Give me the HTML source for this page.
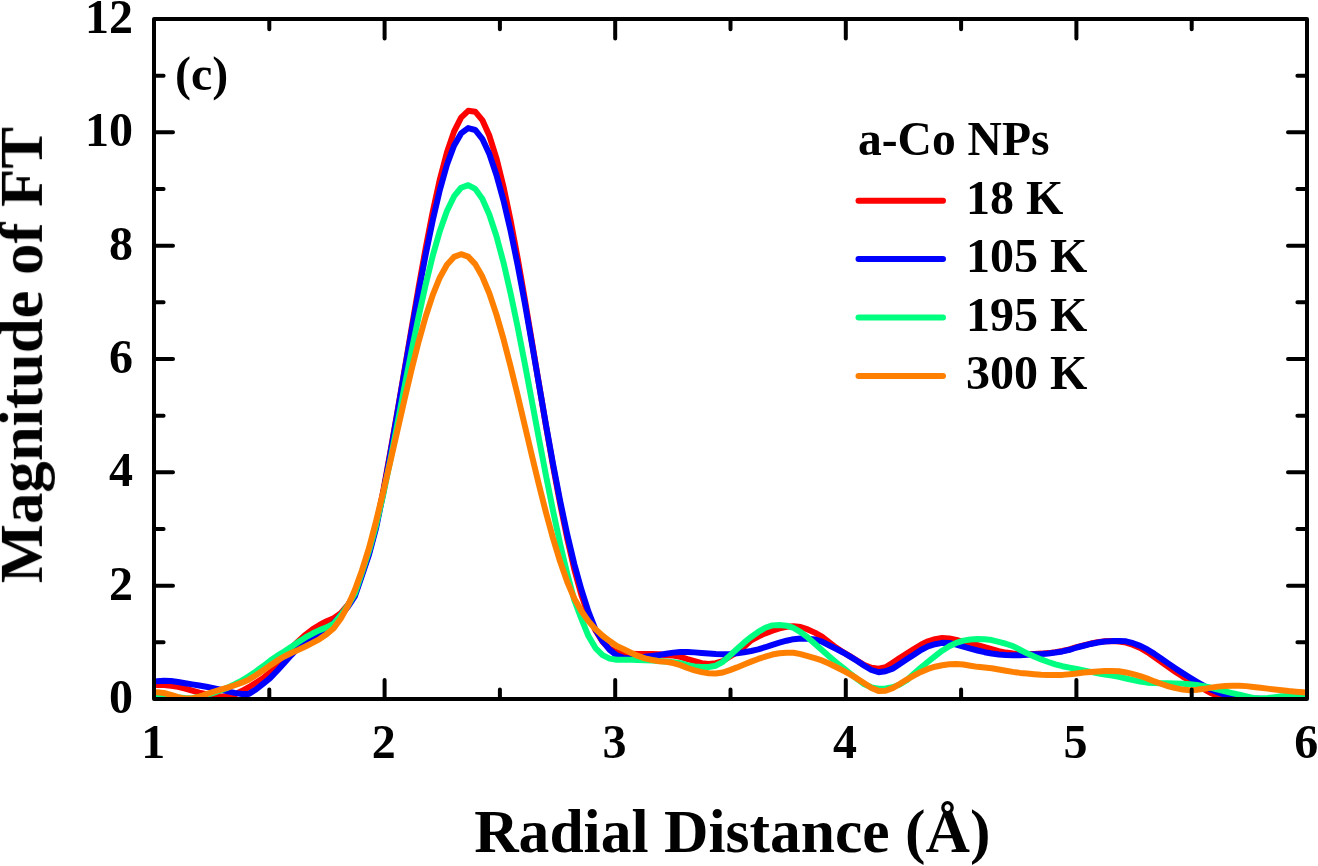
<!DOCTYPE html>
<html><head><meta charset="utf-8"><title>Magnitude of FT</title>
<style>html,body{margin:0;padding:0;background:#fff;}svg{display:block;}text{font-family:"Liberation Serif",serif;font-weight:bold;fill:#000;}</style></head><body>
<svg width="1318" height="866" viewBox="0 0 1318 866">
<rect x="0" y="0" width="1318" height="866" fill="#fff"/>
<defs><clipPath id="plot"><rect x="154.0" y="19.0" width="1153.0" height="680.0"/></clipPath></defs>
<g clip-path="url(#plot)" fill="none" stroke-linejoin="round" stroke-linecap="round" stroke-width="6.00">
<path d="M156.87,684.98 L163.94,685.01 L171.02,685.72 L178.09,686.75 L185.16,688.54 L192.24,690.66 L199.31,692.60 L206.39,694.20 L213.46,695.44 L220.54,696.25 L227.61,696.38 L234.69,694.49 L241.76,691.05 L248.84,687.20 L255.91,682.81 L262.99,678.20 L270.06,672.31 L277.14,663.45 L284.21,655.33 L291.29,647.90 L298.36,641.13 L305.43,634.86 L312.51,629.41 L319.58,625.00 L326.66,621.27 L333.73,618.31 L340.81,613.30 L347.88,604.97 L354.96,593.93 L362.03,573.92 L369.11,552.70 L376.18,525.46 L383.26,490.74 L390.33,451.93 L397.41,411.83 L404.48,370.36 L411.56,328.48 L418.63,287.30 L425.70,247.96 L432.78,211.64 L439.85,179.48 L446.93,152.50 L454.00,131.62 L461.08,117.57 L468.15,110.83 L475.23,111.68 L482.30,120.09 L489.38,135.82 L496.45,158.34 L503.53,186.92 L510.60,220.61 L517.68,258.33 L524.75,298.91 L531.83,341.13 L538.90,383.78 L545.97,425.74 L553.05,466.01 L560.12,503.73 L567.20,538.25 L574.27,569.12 L581.35,594.77 L588.42,614.99 L595.50,630.43 L602.57,641.71 L609.65,648.79 L616.72,652.24 L623.80,653.42 L630.87,653.73 L637.95,653.93 L645.02,653.97 L652.10,653.90 L659.17,654.17 L666.25,655.21 L673.32,655.56 L680.39,656.88 L687.47,659.17 L694.54,661.15 L701.62,663.20 L708.69,664.05 L715.77,663.16 L722.84,661.09 L729.92,656.55 L736.99,652.10 L744.07,646.75 L751.14,640.31 L758.22,636.51 L765.29,633.33 L772.37,630.58 L779.44,628.28 L786.52,626.77 L793.59,626.29 L800.66,627.07 L807.74,629.42 L814.81,632.61 L821.89,636.57 L828.96,642.12 L836.04,647.52 L843.11,652.16 L850.19,656.32 L857.26,660.73 L864.34,665.09 L871.41,667.83 L878.49,668.62 L885.56,667.22 L892.64,662.71 L899.71,657.99 L906.79,653.54 L913.86,649.01 L920.93,644.76 L928.01,641.27 L935.08,639.14 L942.16,638.09 L949.23,638.38 L956.31,639.87 L963.38,641.87 L970.46,643.24 L977.53,645.25 L984.61,647.26 L991.68,649.15 L998.76,651.08 L1005.83,652.58 L1012.91,653.57 L1019.98,654.18 L1027.06,654.12 L1034.13,653.90 L1041.21,653.62 L1048.28,653.10 L1055.35,652.15 L1062.43,651.02 L1069.50,649.37 L1076.58,647.11 L1083.65,645.34 L1090.73,643.54 L1097.80,642.13 L1104.88,641.23 L1111.95,641.06 L1119.03,641.50 L1126.10,642.63 L1133.18,644.99 L1140.25,648.02 L1147.33,652.14 L1154.40,657.04 L1161.48,662.08 L1168.55,667.02 L1175.62,671.96 L1182.70,676.57 L1189.77,680.60 L1196.85,684.77 L1203.92,689.04 L1211.00,693.08 L1218.07,696.17 L1225.15,698.21 L1232.22,699.32 L1239.30,699.80 L1246.37,700.02 L1253.45,700.14 L1260.52,700.23 L1267.60,700.31 L1274.67,700.36 L1281.75,700.38 L1288.82,700.36 L1295.89,700.30 L1302.97,700.20 L1310.04,700.05" stroke="#ff0000"/>
<path d="M156.87,681.34 L163.94,680.79 L171.02,681.02 L178.09,682.03 L185.16,683.22 L192.24,684.40 L199.31,685.53 L206.39,686.72 L213.46,688.15 L220.54,689.69 L227.61,691.31 L234.69,692.84 L241.76,693.99 L248.84,693.90 L255.91,689.52 L262.99,683.81 L270.06,678.15 L277.14,670.71 L284.21,662.91 L291.29,655.07 L298.36,647.71 L305.43,641.22 L312.51,637.51 L319.58,634.11 L326.66,629.15 L333.73,622.96 L340.81,615.24 L347.88,606.77 L354.96,595.99 L362.03,575.33 L369.11,554.31 L376.18,527.65 L383.26,493.02 L390.33,453.52 L397.41,412.66 L404.48,371.56 L411.56,330.98 L418.63,291.67 L425.70,254.43 L432.78,220.15 L439.85,189.90 L446.93,164.79 L454.00,145.74 L461.08,133.41 L468.15,128.13 L475.23,129.99 L482.30,138.83 L489.38,154.09 L496.45,174.93 L503.53,200.65 L510.60,230.83 L517.68,265.11 L524.75,302.82 L531.83,342.91 L538.90,384.05 L545.97,424.88 L553.05,464.15 L560.12,500.87 L567.20,534.31 L574.27,564.04 L581.35,589.48 L588.42,611.64 L595.50,629.49 L602.57,641.22 L609.65,649.87 L616.72,655.45 L623.80,657.95 L630.87,658.37 L637.95,657.66 L645.02,656.84 L652.10,655.96 L659.17,654.95 L666.25,653.68 L673.32,652.62 L680.39,651.95 L687.47,651.89 L694.54,652.37 L701.62,652.92 L708.69,653.48 L715.77,654.04 L722.84,654.31 L729.92,654.03 L736.99,653.36 L744.07,652.30 L751.14,650.99 L758.22,649.39 L765.29,647.23 L772.37,644.81 L779.44,642.64 L786.52,640.72 L793.59,639.18 L800.66,638.55 L807.74,638.64 L814.81,639.42 L821.89,641.60 L828.96,645.25 L836.04,648.77 L843.11,652.52 L850.19,656.60 L857.26,661.00 L864.34,665.76 L871.41,670.01 L878.49,672.23 L885.56,671.23 L892.64,668.63 L899.71,663.99 L906.79,659.32 L913.86,654.64 L920.93,649.95 L928.01,646.36 L935.08,644.19 L942.16,642.83 L949.23,643.00 L956.31,644.61 L963.38,646.65 L970.46,648.64 L977.53,650.51 L984.61,652.20 L991.68,653.54 L998.76,654.42 L1005.83,654.98 L1012.91,655.28 L1019.98,655.25 L1027.06,654.78 L1034.13,654.33 L1041.21,654.01 L1048.28,653.50 L1055.35,652.55 L1062.43,651.42 L1069.50,649.77 L1076.58,647.51 L1083.65,645.74 L1090.73,643.94 L1097.80,642.53 L1104.88,641.58 L1111.95,641.12 L1119.03,641.00 L1126.10,641.37 L1133.18,643.19 L1140.25,645.86 L1147.33,649.41 L1154.40,653.89 L1161.48,658.70 L1168.55,663.63 L1175.62,668.46 L1182.70,673.12 L1189.77,677.52 L1196.85,681.76 L1203.92,685.87 L1211.00,689.45 L1218.07,692.37 L1225.15,694.80 L1232.22,696.58 L1239.30,697.72 L1246.37,698.26 L1253.45,698.55 L1260.52,698.82 L1267.60,699.08 L1274.67,699.33 L1281.75,699.55 L1288.82,699.73 L1295.89,699.85 L1302.97,699.93 L1310.04,699.99" stroke="#0000ff"/>
<path d="M156.87,697.49 L163.94,697.16 L171.02,697.02 L178.09,697.49 L185.16,698.03 L192.24,698.17 L199.31,696.80 L206.39,694.91 L213.46,692.77 L220.54,690.48 L227.61,687.63 L234.69,684.26 L241.76,680.64 L248.84,676.28 L255.91,671.42 L262.99,666.27 L270.06,660.80 L277.14,655.86 L284.21,651.51 L291.29,646.88 L298.36,641.97 L305.43,637.43 L312.51,633.53 L319.58,630.09 L326.66,627.39 L333.73,623.58 L340.81,615.23 L347.88,605.60 L354.96,593.57 L362.03,572.32 L369.11,550.62 L376.18,524.87 L383.26,494.48 L390.33,460.11 L397.41,423.79 L404.48,387.15 L411.56,351.09 L418.63,316.55 L425.70,284.44 L432.78,255.63 L439.85,230.91 L446.93,211.00 L454.00,196.46 L461.08,187.76 L468.15,185.18 L475.23,188.87 L482.30,198.78 L489.38,214.70 L496.45,236.21 L503.53,262.70 L510.60,293.35 L517.68,327.24 L524.75,363.37 L531.83,400.77 L538.90,438.45 L545.97,475.45 L553.05,510.83 L560.12,543.78 L567.20,573.64 L574.27,599.96 L581.35,618.68 L588.42,636.05 L595.50,648.08 L602.57,655.10 L609.65,658.65 L616.72,659.72 L623.80,659.84 L630.87,659.84 L637.95,659.97 L645.02,660.20 L652.10,660.56 L659.17,661.01 L666.25,661.54 L673.32,662.15 L680.39,663.16 L687.47,665.20 L694.54,666.40 L701.62,667.01 L708.69,667.02 L715.77,665.73 L722.84,661.78 L729.92,655.45 L736.99,649.06 L744.07,642.66 L751.14,636.93 L758.22,631.94 L765.29,627.77 L772.37,625.37 L779.44,624.96 L786.52,625.68 L793.59,627.95 L800.66,632.18 L807.74,637.45 L814.81,643.75 L821.89,650.07 L828.96,656.29 L836.04,662.31 L843.11,667.91 L850.19,673.51 L857.26,679.11 L864.34,684.24 L871.41,687.36 L878.49,688.78 L885.56,688.55 L892.64,687.20 L899.71,684.44 L906.79,680.23 L913.86,673.72 L920.93,667.54 L928.01,661.73 L935.08,656.17 L942.16,650.69 L949.23,646.32 L956.31,642.89 L963.38,640.65 L970.46,639.47 L977.53,639.05 L984.61,639.16 L991.68,640.08 L998.76,641.88 L1005.83,643.74 L1012.91,646.11 L1019.98,649.73 L1027.06,653.35 L1034.13,656.56 L1041.21,659.42 L1048.28,661.99 L1055.35,664.30 L1062.43,666.19 L1069.50,667.60 L1076.58,669.05 L1083.65,670.49 L1090.73,671.91 L1097.80,673.31 L1104.88,674.50 L1111.95,675.47 L1119.03,676.83 L1126.10,678.49 L1133.18,680.10 L1140.25,681.58 L1147.33,682.63 L1154.40,682.98 L1161.48,683.15 L1168.55,683.30 L1175.62,683.43 L1182.70,683.67 L1189.77,684.25 L1196.85,685.07 L1203.92,686.21 L1211.00,687.79 L1218.07,689.64 L1225.15,691.43 L1232.22,693.05 L1239.30,694.56 L1246.37,696.31 L1253.45,697.91 L1260.52,698.58 L1267.60,697.99 L1274.67,697.14 L1281.75,696.31 L1288.82,695.84 L1295.89,695.68 L1302.97,695.61 L1310.04,695.59" stroke="#00ff80"/>
<path d="M156.87,692.35 L163.94,693.01 L171.02,694.86 L178.09,697.11 L185.16,698.58 L192.24,698.41 L199.31,696.71 L206.39,694.16 L213.46,691.75 L220.54,689.54 L227.61,687.64 L234.69,685.27 L241.76,682.65 L248.84,679.65 L255.91,675.29 L262.99,670.43 L270.06,665.45 L277.14,660.67 L284.21,656.51 L291.29,653.04 L298.36,649.87 L305.43,646.48 L312.51,642.90 L319.58,639.01 L326.66,634.16 L333.73,628.27 L340.81,618.55 L347.88,605.90 L354.96,589.82 L362.03,570.21 L369.11,547.64 L376.18,520.64 L383.26,491.90 L390.33,461.64 L397.41,430.62 L404.48,399.65 L411.56,369.67 L418.63,341.63 L425.70,316.44 L432.78,294.86 L439.85,277.48 L446.93,264.73 L454.00,256.91 L461.08,254.18 L468.15,256.61 L475.23,264.13 L482.30,276.53 L489.38,293.52 L496.45,314.61 L503.53,339.16 L510.60,366.38 L517.68,395.41 L524.75,425.35 L531.83,455.37 L538.90,484.67 L545.97,512.55 L553.05,538.35 L560.12,561.56 L567.20,581.83 L574.27,598.39 L581.35,611.03 L588.42,621.14 L595.50,629.17 L602.57,635.73 L609.65,641.03 L616.72,645.96 L623.80,649.21 L630.87,652.69 L637.95,655.92 L645.02,658.31 L652.10,660.00 L659.17,661.17 L666.25,661.83 L673.32,663.07 L680.39,665.12 L687.47,667.99 L694.54,670.30 L701.62,672.15 L708.69,673.32 L715.77,673.58 L722.84,672.52 L729.92,670.08 L736.99,667.41 L744.07,664.55 L751.14,661.63 L758.22,658.95 L765.29,656.61 L772.37,654.56 L779.44,653.23 L786.52,652.82 L793.59,652.77 L800.66,654.12 L807.74,656.11 L814.81,658.22 L821.89,660.40 L828.96,663.48 L836.04,667.05 L843.11,670.64 L850.19,674.34 L857.26,678.65 L864.34,683.30 L871.41,687.91 L878.49,690.89 L885.56,690.75 L892.64,688.17 L899.71,683.98 L906.79,679.53 L913.86,675.62 L920.93,671.93 L928.01,668.91 L935.08,666.69 L942.16,665.20 L949.23,664.28 L956.31,664.05 L963.38,664.58 L970.46,665.73 L977.53,666.85 L984.61,667.54 L991.68,668.28 L998.76,669.49 L1005.83,670.68 L1012.91,671.88 L1019.98,672.89 L1027.06,673.55 L1034.13,674.21 L1041.21,674.79 L1048.28,675.06 L1055.35,675.09 L1062.43,674.88 L1069.50,674.35 L1076.58,673.46 L1083.65,672.56 L1090.73,671.91 L1097.80,671.39 L1104.88,671.08 L1111.95,671.00 L1119.03,671.20 L1126.10,672.45 L1133.18,674.19 L1140.25,676.04 L1147.33,678.52 L1154.40,681.41 L1161.48,684.01 L1168.55,686.29 L1175.62,688.14 L1182.70,689.60 L1189.77,690.30 L1196.85,689.82 L1203.92,688.84 L1211.00,687.64 L1218.07,686.62 L1225.15,685.98 L1232.22,685.69 L1239.30,685.69 L1246.37,686.13 L1253.45,686.96 L1260.52,687.80 L1267.60,688.64 L1274.67,689.49 L1281.75,690.33 L1288.82,691.09 L1295.89,691.65 L1302.97,692.15 L1310.04,692.66" stroke="#ff8000"/>
</g>
<path d="M269.30,699.0 v-9.6 M269.30,19.0 v10.2 M384.60,699.0 v-19.0 M384.60,19.0 v19.6 M499.90,699.0 v-9.6 M499.90,19.0 v10.2 M615.20,699.0 v-19.0 M615.20,19.0 v19.6 M730.50,699.0 v-9.6 M730.50,19.0 v10.2 M845.80,699.0 v-19.0 M845.80,19.0 v19.6 M961.10,699.0 v-9.6 M961.10,19.0 v10.2 M1076.40,699.0 v-19.0 M1076.40,19.0 v19.6 M1191.70,699.0 v-9.6 M1191.70,19.0 v10.2 M154.0,642.33 h9.6 M1307.0,642.33 h-9.6 M154.0,585.67 h19.0 M1307.0,585.67 h-19.0 M154.0,529.00 h9.6 M1307.0,529.00 h-9.6 M154.0,472.33 h19.0 M1307.0,472.33 h-19.0 M154.0,415.67 h9.6 M1307.0,415.67 h-9.6 M154.0,359.00 h19.0 M1307.0,359.00 h-19.0 M154.0,302.33 h9.6 M1307.0,302.33 h-9.6 M154.0,245.67 h19.0 M1307.0,245.67 h-19.0 M154.0,189.00 h9.6 M1307.0,189.00 h-9.6 M154.0,132.33 h19.0 M1307.0,132.33 h-19.0 M154.0,75.67 h9.6 M1307.0,75.67 h-9.6" stroke="#000" stroke-width="4.0" stroke-linecap="round" fill="none"/>
<rect x="154.0" y="19.0" width="1153.0" height="680.0" fill="none" stroke="#000" stroke-width="4.0" stroke-linejoin="round"/>
<g opacity="0.999">
<text x="133" y="713.0" font-size="48" text-anchor="end">0</text>
<text x="133" y="599.7" font-size="48" text-anchor="end">2</text>
<text x="133" y="486.3" font-size="48" text-anchor="end">4</text>
<text x="133" y="373.0" font-size="48" text-anchor="end">6</text>
<text x="133" y="259.7" font-size="48" text-anchor="end">8</text>
<text x="133" y="146.3" font-size="48" text-anchor="end">10</text>
<text x="133" y="33.0" font-size="48" text-anchor="end">12</text>
<text x="153.2" y="757.7" font-size="48" text-anchor="middle">1</text>
<text x="383.8" y="757.7" font-size="48" text-anchor="middle">2</text>
<text x="614.4" y="757.7" font-size="48" text-anchor="middle">3</text>
<text x="845.0" y="757.7" font-size="48" text-anchor="middle">4</text>
<text x="1075.6" y="757.7" font-size="48" text-anchor="middle">5</text>
<text x="1306.2" y="757.7" font-size="48" text-anchor="middle">6</text>
<text x="175" y="90" font-size="48">(c)</text>
<text x="858.0" y="155" font-size="47.55">a-Co NPs</text>
<line x1="858.5" x2="943" y1="200.7" y2="200.7" stroke="#ff0000" stroke-width="6.0" stroke-linecap="round"/>
<text x="966" y="213.7" font-size="48">18 K</text>
<line x1="858.5" x2="943" y1="259.1" y2="259.1" stroke="#0000ff" stroke-width="6.0" stroke-linecap="round"/>
<text x="966" y="272.1" font-size="48">105 K</text>
<line x1="858.5" x2="943" y1="317.6" y2="317.6" stroke="#00ff80" stroke-width="6.0" stroke-linecap="round"/>
<text x="966" y="330.6" font-size="48">195 K</text>
<line x1="858.5" x2="943" y1="376.1" y2="376.1" stroke="#ff8000" stroke-width="6.0" stroke-linecap="round"/>
<text x="966" y="389.1" font-size="48">300 K</text>
<text x="732.3" y="852" font-size="61.55" text-anchor="middle">Radial Distance (Å)</text>
<text transform="translate(41.9,355) rotate(-90) scale(1.0186,1)" font-size="61.55" text-anchor="middle">Magnitude of FT</text>
</g>
</svg></body></html>
